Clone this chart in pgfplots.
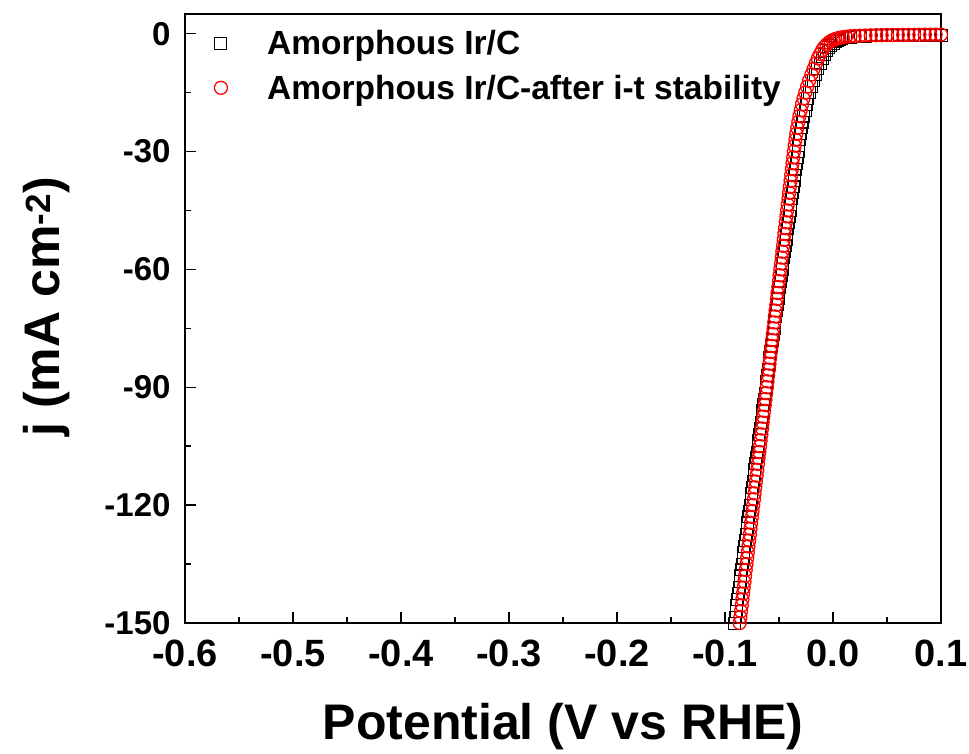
\documentclass[border=0pt]{standalone}
\usepackage{pgfplots}
\pgfplotsset{compat=1.18}
\usepackage{pgfplotstable}
\usepackage{fontspec}
\setmainfont{Liberation Sans}

\pgfplotstableread{
x y
0.100 -0.35
0.095 -0.36
0.090 -0.37
0.085 -0.38
0.080 -0.39
0.075 -0.40
0.070 -0.41
0.065 -0.43
0.060 -0.45
0.055 -0.47
0.050 -0.49
0.045 -0.52
0.040 -0.55
0.035 -0.59
0.030 -0.63
0.025 -0.68
0.020 -0.75
0.016 -0.90
0.012 -1.10
0.008 -1.35
0.006 -1.55
0.004 -1.75
0.002 -2.10
0.000 -2.50
-0.002 -3.00
-0.004 -3.60
-0.006 -4.30
-0.008 -5.20
-0.010 -6.20
-0.012 -7.50
-0.014 -8.90
-0.016 -10.40
-0.0182 -12.0
-0.0200 -13.5
-0.0217 -15.0
-0.0233 -16.5
-0.0247 -18.0
-0.0259 -19.5
-0.0271 -21.0
-0.0281 -22.5
-0.0291 -24.0
-0.0300 -25.5
-0.0308 -27.0
-0.0315 -28.5
-0.0322 -30.0
-0.0329 -31.5
-0.0337 -33.0
-0.0345 -34.5
-0.0352 -36.0
-0.0359 -37.5
-0.0367 -39.0
-0.0374 -40.5
-0.0382 -42.0
-0.0390 -43.5
-0.0397 -45.0
-0.0404 -46.5
-0.0411 -48.0
-0.0420 -49.5
-0.0427 -51.0
-0.0434 -52.5
-0.0441 -54.0
-0.0449 -55.5
-0.0457 -57.0
-0.0464 -58.5
-0.0472 -60.0
-0.0479 -61.5
-0.0486 -63.0
-0.0494 -64.5
-0.0502 -66.0
-0.0509 -67.5
-0.0516 -69.0
-0.0524 -70.5
-0.0532 -72.0
-0.0539 -73.5
-0.0546 -75.0
-0.0554 -76.5
-0.0561 -78.0
-0.0569 -79.5
-0.0577 -81.0
-0.0584 -82.5
-0.0591 -84.0
-0.0598 -85.5
-0.0606 -87.0
-0.0613 -88.5
-0.0620 -90.0
-0.0627 -91.5
-0.0635 -93.0
-0.0642 -94.5
-0.0649 -96.0
-0.0657 -97.5
-0.0664 -99.0
-0.0671 -100.5
-0.0678 -102.0
-0.0686 -103.5
-0.0693 -105.0
-0.0700 -106.5
-0.0708 -108.0
-0.0715 -109.5
-0.0723 -111.0
-0.0730 -112.5
-0.0738 -114.0
-0.0745 -115.5
-0.0752 -117.0
-0.0759 -118.5
-0.0767 -120.0
-0.0774 -121.5
-0.0781 -123.0
-0.0789 -124.5
-0.0796 -126.0
-0.0803 -127.5
-0.0810 -129.0
-0.0818 -130.5
-0.0825 -132.0
-0.0832 -133.5
-0.0839 -135.0
-0.0847 -136.5
-0.0854 -138.0
-0.0861 -139.5
-0.0869 -141.0
-0.0876 -142.5
-0.0883 -144.0
-0.0891 -145.5
-0.0898 -147.0
-0.0906 -148.5
-0.0913 -150.0
-0.0920 -151.5
}\blackdata

\pgfplotstableread{
x y
0.100 -0.25
0.095 -0.26
0.090 -0.27
0.085 -0.28
0.080 -0.29
0.075 -0.30
0.070 -0.31
0.065 -0.32
0.060 -0.33
0.055 -0.35
0.050 -0.37
0.045 -0.39
0.040 -0.41
0.035 -0.44
0.030 -0.48
0.025 -0.53
0.020 -0.60
0.016 -0.68
0.012 -0.80
0.009 -0.92
0.006 -1.08
0.004 -1.22
0.002 -1.40
0.000 -1.62
-0.002 -1.90
-0.004 -2.30
-0.006 -2.80
-0.008 -3.40
-0.010 -4.20
-0.012 -5.20
-0.014 -6.30
-0.016 -7.60
-0.018 -9.00
-0.020 -10.40
-0.0222 -12.0
-0.0240 -13.5
-0.0257 -15.0
-0.0273 -16.5
-0.0287 -18.0
-0.0299 -19.5
-0.0311 -21.0
-0.0321 -22.5
-0.0331 -24.0
-0.0340 -25.5
-0.0348 -27.0
-0.0355 -28.5
-0.0362 -30.0
-0.0368 -31.5
-0.0375 -33.0
-0.0381 -34.5
-0.0387 -36.0
-0.0393 -37.5
-0.0400 -39.0
-0.0406 -40.5
-0.0412 -42.0
-0.0419 -43.5
-0.0425 -45.0
-0.0431 -46.5
-0.0437 -48.0
-0.0444 -49.5
-0.0450 -51.0
-0.0456 -52.5
-0.0462 -54.0
-0.0469 -55.5
-0.0475 -57.0
-0.0481 -58.5
-0.0488 -60.0
-0.0494 -61.5
-0.0500 -63.0
-0.0506 -64.5
-0.0513 -66.0
-0.0519 -67.5
-0.0525 -69.0
-0.0532 -70.5
-0.0538 -72.0
-0.0544 -73.5
-0.0550 -75.0
-0.0557 -76.5
-0.0563 -78.0
-0.0569 -79.5
-0.0576 -81.0
-0.0582 -82.5
-0.0588 -84.0
-0.0594 -85.5
-0.0601 -87.0
-0.0607 -88.5
-0.0613 -90.0
-0.0619 -91.5
-0.0626 -93.0
-0.0632 -94.5
-0.0638 -96.0
-0.0645 -97.5
-0.0651 -99.0
-0.0657 -100.5
-0.0663 -102.0
-0.0670 -103.5
-0.0676 -105.0
-0.0682 -106.5
-0.0689 -108.0
-0.0695 -109.5
-0.0701 -111.0
-0.0707 -112.5
-0.0714 -114.0
-0.0720 -115.5
-0.0726 -117.0
-0.0732 -118.5
-0.0739 -120.0
-0.0745 -121.5
-0.0751 -123.0
-0.0758 -124.5
-0.0764 -126.0
-0.0770 -127.5
-0.0776 -129.0
-0.0783 -130.5
-0.0789 -132.0
-0.0795 -133.5
-0.0801 -135.0
-0.0808 -136.5
-0.0814 -138.0
-0.0820 -139.5
-0.0827 -141.0
-0.0833 -142.5
-0.0839 -144.0
-0.0845 -145.5
-0.0852 -147.0
-0.0858 -148.5
-0.0864 -150.0
-0.0870 -151.5
}\reddata

\begin{document}
\begin{tikzpicture}
\begin{axis}[
  at={(0,0)}, anchor=south west,
  scale only axis,
  width=756bp, height=609bp,
  xmin=-0.6, xmax=0.1, ymin=-150, ymax=5,
  xtick={-0.6,-0.5,-0.4,-0.3,-0.2,-0.1,0,0.1},
  ytick={-150,-120,-90,-60,-30,0},
  minor x tick num=1, minor y tick num=1,
  tick align=inside,
  xtick pos=bottom, ytick pos=left,
  major tick length=11bp, minor tick length=6bp,
  axis line style={line width=1.5bp},
  every tick/.style={line width=1.5bp, black},
  /pgf/number format/assume math mode=true,
  xticklabel style={font=\fontsize{38bp}{44bp}\selectfont\bfseries, /pgf/number format/.cd, fixed, fixed zerofill, precision=1, assume math mode=true},
  yticklabel style={font=\fontsize{33bp}{40bp}\selectfont\bfseries, /pgf/number format/.cd, fixed, precision=0, assume math mode=true},
  xticklabel shift=13bp,
  yticklabel shift=11bp,
  xlabel={Potential (V vs RHE)},
  ylabel={j (mA cm\textsuperscript{-2})},
  label style={font=\fontsize{50bp}{56bp}\selectfont\bfseries},
  xlabel style={at={(axis description cs:0.5,-0.192)}, anchor=base},
  ylabel style={at={(axis description cs:-0.166,0.519)}, anchor=base, rotate=0},
  legend style={draw=none, fill=none, at={(axis description cs:0.0331,0.9885)}, anchor=north west,
    inner sep=0pt, row sep=0pt,
    font=\fontsize{33.5bp}{40bp}\selectfont\bfseries,
    /tikz/every odd column/.append style={column sep=37.5bp}},
  legend cell align=left,
  legend image code/.code={\draw[#1] plot coordinates {(0.3cm+2bp,0bp)}; \path (0cm,-22bp) (0.6cm,22bp);},
]
\addplot[only marks, mark=square, mark size=6bp, mark options={line width=1bp, draw=black}] table {\blackdata};
\addlegendentry{Amorphous Ir/C}
\addplot[only marks, mark=o, mark size=6.5bp, mark options={line width=1.3bp, draw=red}] table {\reddata};
\addlegendentry{Amorphous Ir/C-after i-t stability}
\end{axis}
\pgfresetboundingbox
\path[use as bounding box] (-185bp,-131bp) rectangle (784bp,623bp);
\end{tikzpicture}
\end{document}
